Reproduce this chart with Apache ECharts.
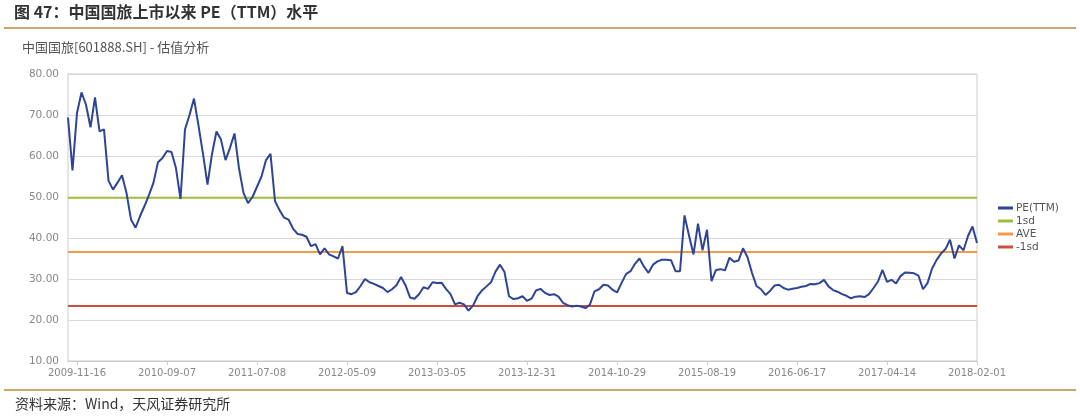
<!DOCTYPE html>
<html>
<head>
<meta charset="utf-8">
<script src="https://cdn.jsdelivr.net/npm/echarts@6/dist/echarts.min.js"></script>
<style>
html,body{margin:0;padding:0;background:#ffffff;}
#chart{width:1080px;height:417px;}
</style>
</head>
<body>
<div id="chart"></div>
<script>
// Tick labels on the x axis (one every 20 sampled points, starting at sample 2)
const tickLabels = ['2009-11-16','2010-09-07','2011-07-08','2012-05-09','2013-03-05','2013-12-31',
  '2014-10-29','2015-08-19','2016-06-17','2017-04-14','2018-02-01'];
const firstLabelIndex = 2;
const labelStep = 20;

// PE(TTM), sampled roughly every 10 trading days from listing to 2018-02-01
const peValues = [
  69.4, 56.5, 70.5, 75.5, 72.5, 67.0, 74.3, 66.0, 66.5, 54.0,
  51.8, 53.5, 55.3, 51.0, 44.5, 42.5, 45.3, 47.8, 50.5, 53.5,
  58.5, 59.5, 61.2, 61.0, 57.0, 49.5, 66.5, 70.0, 74.0, 67.4,
  60.5, 53.0, 60.5, 66.0, 64.0, 59.0, 62.0, 65.5, 57.0, 51.0,
  48.5, 50.0, 52.5, 55.0, 59.0, 60.5, 49.0, 46.8, 45.0, 44.5,
  42.3, 41.0, 40.8, 40.3, 38.0, 38.5, 36.0, 37.5, 36.0, 35.5,
  35.0, 38.0, 26.6, 26.3, 26.8, 28.3, 30.0, 29.2, 28.8, 28.3,
  27.8, 26.8, 27.5, 28.5, 30.5, 28.5, 25.5, 25.2, 26.3, 28.0,
  27.6, 29.2, 29.0, 29.1, 27.6, 26.3, 23.8, 24.2, 23.8, 22.3,
  23.5, 25.8, 27.2, 28.2, 29.2, 31.8, 33.5, 31.7, 25.8, 25.1,
  25.3, 25.8, 24.7, 25.2, 27.2, 27.6, 26.6, 26.1, 26.3, 25.7,
  24.2, 23.6, 23.3, 23.5, 23.3, 22.9, 23.8, 27.0, 27.5, 28.6,
  28.4, 27.4, 26.7, 29.0, 31.2, 31.9, 33.7, 35.0, 33.0, 31.5,
  33.5, 34.3, 34.7, 34.7, 34.6, 31.9, 31.9, 45.5, 40.6, 36.0,
  43.5, 37.0, 42.0, 29.5, 32.2, 32.4, 32.1, 35.2, 34.2, 34.5,
  37.5, 35.3, 31.5, 28.3, 27.5, 26.1, 27.1, 28.4, 28.6, 27.8,
  27.4, 27.6, 27.8, 28.1, 28.3, 28.8, 28.7, 29.0, 29.8, 28.2,
  27.3, 26.9, 26.3, 25.9, 25.3, 25.7, 25.8, 25.6, 26.3, 27.8,
  29.4, 32.2, 29.3, 29.8, 28.9, 30.7, 31.6, 31.5, 31.4, 30.8,
  27.5, 29.0, 32.5, 34.6, 36.2, 37.3, 39.6, 35.0, 38.2, 37.0,
  40.5, 42.8, 38.8
];

// Statistical reference levels
const statNames = ['1sd', 'AVE', '-1sd'];
const statValues = [49.8, 36.6, 23.4];
const statColors = ['#9cbe3a', '#f39a4a', '#c9503f'];

// Y axis ticks
const yMin = 10, yMax = 80, yStep = 10;

// Category list built from samples; label positions carry the tick dates
const categories = peValues.map(function (_, i) {
  const k = (i - firstLabelIndex) / labelStep;
  return (Number.isInteger(k) && k >= 0 && k < tickLabels.length) ? tickLabels[k] : ('#' + i);
});
const isLabel = function (index, value) { return tickLabels.indexOf(value) >= 0; };

const chart = echarts.init(document.getElementById('chart'), null, {renderer: 'canvas'});
const lastIdx = peValues.length - 1;

const series = [{
  name: 'PE(TTM)',
  type: 'line',
  data: peValues,
  symbol: 'none',
  lineStyle: {color: '#2f4494', width: 2},
  itemStyle: {color: '#2f4494'},
  z: 5
}];
statNames.forEach(function (n, j) {
  series.push({
    name: n,
    type: 'line',
    data: [[0, statValues[j]], [lastIdx, statValues[j]]],
    symbol: 'none',
    lineStyle: {color: statColors[j], width: 2},
    itemStyle: {color: statColors[j]},
    z: 3
  });
});

chart.setOption({
  animation: false,
  backgroundColor: '#ffffff',
  textStyle: {fontFamily: 'DejaVu Sans'},
  graphic: [
    {type: 'text', left: 14, top: 4, style: {text: '图 47：中国国旅上市以来 PE（TTM）水平', fill: '#333333',
      font: 'bold 16px "Noto Sans CJK SC", sans-serif'}},
    {type: 'rect', shape: {x: 4, y: 27, width: 1072, height: 2}, style: {fill: '#c9aa6a'}},
    {type: 'text', left: 22, top: 41, style: {text: '中国国旅[601888.SH] - 估值分析', fill: '#555555',
      font: '13px "Noto Sans CJK SC", sans-serif'}},
    {type: 'rect', shape: {x: 4, y: 389, width: 1072, height: 2}, style: {fill: '#c9aa6a'}},
    {type: 'text', left: 15, top: 397, style: {text: '资料来源：Wind，天风证券研究所', fill: '#333333',
      font: '14px "Noto Sans CJK SC", sans-serif'}}
  ],
  legend: {
    orient: 'vertical',
    left: 993,
    top: 197,
    itemWidth: 15,
    itemHeight: 3,
    itemGap: 1,
    icon: 'rect',
    textStyle: {fontSize: 10.5, color: '#555555', fontFamily: 'DejaVu Sans', lineHeight: 12, padding: [0, 0, 0, -2]},
    data: ['PE(TTM)'].concat(statNames)
  },
  grid: {left: 68, right: 103, top: 74, bottom: 56, show: true, borderColor: '#cccccc', borderWidth: 1,
    backgroundColor: 'transparent'},
  xAxis: {
    type: 'category',
    data: categories,
    boundaryGap: false,
    axisLine: {lineStyle: {color: '#cccccc'}},
    axisTick: {show: true, interval: isLabel, length: 4, lineStyle: {color: '#cccccc'}},
    axisLabel: {interval: isLabel, color: '#888888', fontSize: 10, margin: 7, fontFamily: 'DejaVu Sans'},
    splitLine: {show: false}
  },
  yAxis: {
    type: 'value',
    min: yMin, max: yMax, interval: yStep,
    axisLine: {show: false},
    axisTick: {show: false},
    axisLabel: {color: '#888888', fontSize: 10.5, margin: 9, fontFamily: 'DejaVu Sans',
      formatter: function (v) { return v.toFixed(2); }},
    splitLine: {lineStyle: {color: '#d9d9d9', width: 1}}
  },
  series: series
});
</script>
</body>
</html>
